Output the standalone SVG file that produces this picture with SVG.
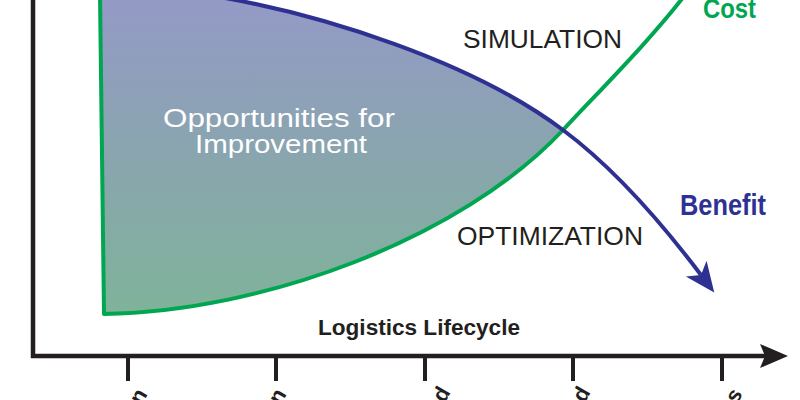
<svg xmlns="http://www.w3.org/2000/svg" width="800" height="400" viewBox="0 0 800 400">
  <style>
    .axis { stroke: #231f20; stroke-width: 4.5; fill: none; }
    .tick { stroke: #231f20; stroke-width: 4; }
    .cost { stroke: #00a651; stroke-width: 4; fill: none; stroke-linejoin: round; }
    .benefit { stroke: #2e3192; stroke-width: 4; fill: none; }
    .label { font-family: "Liberation Sans", Arial, sans-serif; fill: #231f20; }
    .inner { font-family: "Liberation Sans", Arial, sans-serif; fill: #ffffff; font-size: 25px; }
    .heavy { font-family: "Liberation Sans", Arial, sans-serif; font-weight: bold; }
    .phase { font-family: "Liberation Sans", Arial, sans-serif; font-size: 22px; font-weight: bold; fill: #231f20; }
  </style>
  <defs>
    <linearGradient id="shade" x1="0" y1="0" x2="0" y2="314" gradientUnits="userSpaceOnUse">
      <stop offset="0" stop-color="#949ac6"/>
      <stop offset="0.5" stop-color="#89a5ae"/>
      <stop offset="1" stop-color="#7fb39a"/>
    </linearGradient>
    <marker id="axisHead" markerUnits="userSpaceOnUse" viewBox="0 -14 30 28" refX="5" refY="0" markerWidth="30" markerHeight="28" orient="auto">
      <path d="M0,-12 L28,0 L0,12 L5,0 Z" fill="#231f20"/>
    </marker>
    <marker id="benefitHead" markerUnits="userSpaceOnUse" viewBox="0 -14 32 28" refX="8" refY="0" markerWidth="32" markerHeight="28" orient="auto">
      <path d="M0,-13 L30,0 L0,13 L8,0 Z" fill="#2e3192"/>
    </marker>
  </defs>

  <g id="region">
    <path d="M100,-2 L104,314 C260,312 460,240 563,130 C470,60 320,15 225,-2 Z" fill="url(#shade)"/>
    <text class="inner" x="163" y="127" textLength="232" lengthAdjust="spacingAndGlyphs">Opportunities for</text>
    <text class="inner" x="195" y="153" textLength="172" lengthAdjust="spacingAndGlyphs">Improvement</text>
  </g>

  <g id="connectors">
    <path id="cost-curve" class="cost" d="M100,-5 L104,314 C260,312 460,240 563,130 C610,80 650,40 685,-5"/>
    <path id="benefit-curve" class="benefit" d="M225,-2 C320,15 470,60 563,130 C610,165 658,218 701,275" marker-end="url(#benefitHead)"/>
  </g>

  <g id="axes">
    <line class="axis" x1="33" y1="-5" x2="33" y2="358"/>
    <line class="axis" x1="31" y1="356" x2="765" y2="356" marker-end="url(#axisHead)"/>
    <line class="tick" x1="128" y1="357" x2="128" y2="381"/>
    <line class="tick" x1="276" y1="357" x2="276" y2="381"/>
    <line class="tick" x1="425" y1="357" x2="425" y2="381"/>
    <line class="tick" x1="573" y1="357" x2="573" y2="381"/>
    <line class="tick" x1="722" y1="357" x2="722" y2="381"/>
  </g>

  <g id="labels">
    <text class="label" x="463" y="48" font-size="25" textLength="159" lengthAdjust="spacingAndGlyphs">SIMULATION</text>
    <text class="label" x="457" y="245" font-size="25" textLength="186" lengthAdjust="spacingAndGlyphs">OPTIMIZATION</text>
    <text class="label" x="318" y="335" font-size="22" font-weight="bold" textLength="202" lengthAdjust="spacingAndGlyphs">Logistics Lifecycle</text>
    <text class="heavy" x="703" y="18" font-size="28" fill="#00a651" textLength="53" lengthAdjust="spacingAndGlyphs">Cost</text>
    <text class="heavy" x="680" y="215" font-size="30" fill="#2e3192" textLength="86" lengthAdjust="spacingAndGlyphs">Benefit</text>
  </g>

  <g id="phases">
    <text class="phase" text-anchor="end" transform="translate(148,394) rotate(-60)">n</text>
    <text class="phase" text-anchor="end" transform="translate(287,394) rotate(-60)">n</text>
    <text class="phase" text-anchor="end" transform="translate(451,392) rotate(-60)">d</text>
    <text class="phase" text-anchor="end" transform="translate(591,392) rotate(-60)">d</text>
    <text class="phase" text-anchor="end" transform="translate(743,394) rotate(-60)">s</text>
  </g>
</svg>
